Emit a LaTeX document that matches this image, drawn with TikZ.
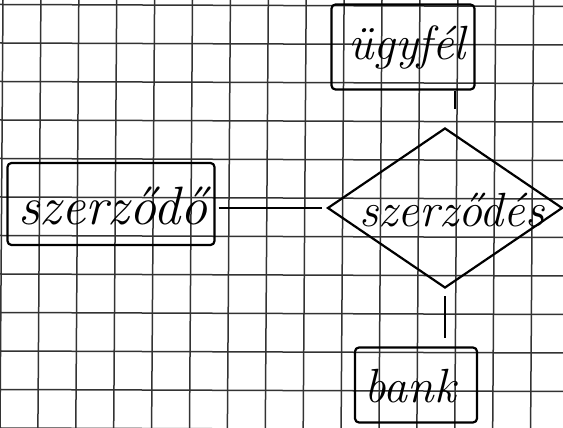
\documentclass[tikz,border=0pt]{standalone}
\usepackage{fontspec}
\usetikzlibrary{shapes.geometric}
\begin{document}
\begin{tikzpicture}[x=1pt,y=1pt,
  gridline/.style={draw=black!80,line width=1.5pt},
  ink/.style={draw=black,line width=2.2pt},
  entity/.style={ink,rectangle,rounded corners=4pt,inner sep=0pt},
  rel/.style={ink,diamond,inner sep=0pt},
  hand/.style={font=\fontsize{48}{48}\itshape\selectfont,inner sep=0pt}
]
\useasboundingbox (0,0) rectangle (563,428);
\fill[white] (0,0) rectangle (563,428);
% grid
\foreach \k in {0,...,15} {\draw[gridline] (\k*37.9,0) -- (\k*37.9+3,428);}
\foreach \k in {0,...,11} {\draw[gridline] (0,423.5-\k*38.5) -- (563,421.5-\k*38.5);}
% nodes
\node[entity,minimum width=143pt,minimum height=85pt] (ugyfel) at (403,381) {};
\node[hand] (tugyfel) at (407,380) {ügyfél};
\node[entity,minimum width=207pt,minimum height=82pt] (szerzodo) at (111,224) {};
\node[hand,font=\fontsize{54}{54}\itshape\selectfont] (tszerzodo) at (113,222) {szerződő};
\node[rel,minimum width=235pt,minimum height=160pt] (d) at (445,220) {};
\node[hand] (tszerzodes) at (452,218) {szerződés};
\node[entity,minimum width=122pt,minimum height=75pt] (bank) at (416,43) {};
\node[hand] (tbank) at (410,42) {bank};
% connectors
\draw[ink] ([xshift=52pt]ugyfel.south) -- ([xshift=10pt,yshift=18pt]d.north);
\draw[ink] ([xshift=3pt,yshift=-4pt]szerzodo.east) -- ([xshift=-4pt]d.west);
\draw[ink] ([yshift=-7pt]d.south) -- ([xshift=29pt,yshift=8pt]bank.north);
\end{tikzpicture}
\end{document}
